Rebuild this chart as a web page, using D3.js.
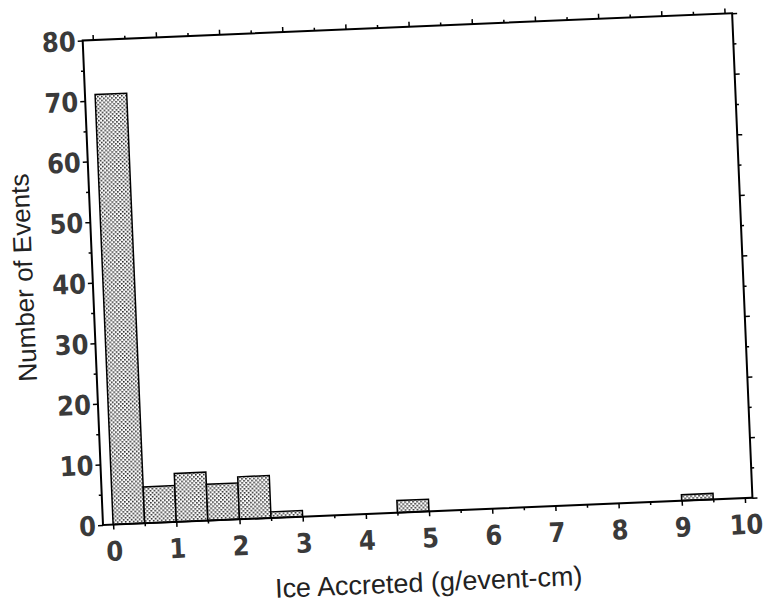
<!DOCTYPE html>
<meta charset="utf-8">
<script src="https://d3js.org/d3.v7.min.js"></script>
<style>
  body { margin: 0; background: #fff; }
  .tick text { font-family: "DejaVu Sans", sans-serif; font-stretch: condensed; font-weight: bold; font-size: 27px; fill: #3a3a3a; }
  .tick line { stroke: #000; stroke-width: 1.5px; }
  .title { font-family: "Liberation Sans", Arial, sans-serif; fill: #222; }
</style>
<div id="chart"></div>
<script>

// histogram bins (left edge, g/event-cm) and counts
var binStarts = [0, 0.5, 1, 1.5, 2, 2.5, 3, 3.5, 4, 4.5, 5, 5.5, 6, 6.5, 7, 7.5, 8, 8.5, 9, 9.5];
var counts    = [71, 6, 8, 6, 7, 1, 0, 0, 0, 2, 0, 0, 0, 0, 0, 0, 0, 0, 1, 0];
var binWidth = 0.5;

var xTicks = [0, 1, 2, 3, 4, 5, 6, 7, 8, 9, 10];
var xMinor = [0.5, 1.5, 2.5, 3.5, 4.5, 5.5, 6.5, 7.5, 8.5, 9.5];
var yTicks = [0, 10, 20, 30, 40, 50, 60, 70, 80];
var yMinor = [5, 15, 25, 35, 45, 55, 65, 75];

var width = 650,
    height = 485;

var svg = d3.select("#chart")
  .append("svg")
    .attr("width", 773)
    .attr("height", 611);

// the scanned page is tilted a little, so the whole plot is rotated
var g = svg.append("g")
    .attr("transform", "translate(103,525) rotate(-2.4) translate(0," + (-height) + ")");

var defs = svg.append("defs");
var pat = defs.append("pattern")
    .attr("id", "dots")
    .attr("patternUnits", "userSpaceOnUse")
    .attr("width", 4)
    .attr("height", 4);
pat.append("rect").attr("width", 4).attr("height", 4).attr("fill", "#fff");
pat.append("rect").attr("x", 0).attr("y", 0).attr("width", 1.6).attr("height", 1.6).attr("fill", "#222");
pat.append("rect").attr("x", 2).attr("y", 2).attr("width", 1.6).attr("height", 1.6).attr("fill", "#222");

var x = d3.scaleLinear()
  .domain([-0.16, 10.12])
  .range([0, width]);

var y = d3.scaleLinear()
  .domain([0, 80])
  .range([height, 0]);

// bars
var bins = binStarts.map(function(b, i) { return {x0: b, n: counts[i]}; })
  .filter(function(d) { return d.n > 0; });

g.append("g")
  .selectAll("rect")
  .data(bins)
  .enter()
  .append("rect")
    .attr("x", function(d) { return x(d.x0); })
    .attr("width", function(d) { return x(d.x0 + binWidth) - x(d.x0); })
    .attr("y", function(d) { return y(d.n); })
    .attr("height", function(d) { return y(0) - y(d.n); })
    .attr("fill", "url(#dots)")
    .attr("stroke", "#000")
    .attr("stroke-width", 1.5);

// bottom axis
var xb = g.append("g")
  .attr("transform", "translate(0," + height + ")")
  .call(d3.axisBottom(x).tickValues(xTicks).tickSize(5).tickFormat(d3.format("d")));
xb.selectAll("text").attr("y", 36).attr("dy", 0);
g.append("g")
  .attr("transform", "translate(0," + height + ")")
  .call(d3.axisBottom(x).tickValues(xMinor).tickSize(3).tickFormat(""));

// top axis
g.append("g").call(d3.axisTop(x).tickValues(xTicks).tickSize(5).tickFormat(""));
g.append("g").call(d3.axisTop(x).tickValues(xMinor).tickSize(3).tickFormat(""));

// left axis
var yl = g.append("g")
  .call(d3.axisLeft(y).tickValues(yTicks).tickSize(5).tickFormat(d3.format("d")));
yl.selectAll("text").attr("x", -7).attr("dy", "0.36em");
g.append("g").call(d3.axisLeft(y).tickValues(yMinor).tickSize(3).tickFormat(""));

// right axis
g.append("g")
  .attr("transform", "translate(" + width + ",0)")
  .call(d3.axisRight(y).tickValues(yTicks).tickSize(5).tickFormat(""));
g.append("g")
  .attr("transform", "translate(" + width + ",0)")
  .call(d3.axisRight(y).tickValues(yMinor).tickSize(3).tickFormat(""));

g.selectAll(".domain").remove();

// frame
g.append("rect")
  .attr("width", width)
  .attr("height", height)
  .attr("fill", "none")
  .attr("stroke", "#000")
  .attr("stroke-width", 2);

// axis titles
g.append("text")
  .attr("class", "title")
  .attr("text-anchor", "middle")
  .style("font-size", "27px")
  .attr("x", width / 2 - 2)
  .attr("y", height + 80)
  .text("Ice Accreted (g/event-cm)");

g.append("text")
  .attr("class", "title")
  .attr("text-anchor", "middle")
  .style("font-size", "26px")
  .attr("transform", "translate(-60," + (height / 2 - 8) + ") rotate(-90)")
  .text("Number of Events");

</script>
